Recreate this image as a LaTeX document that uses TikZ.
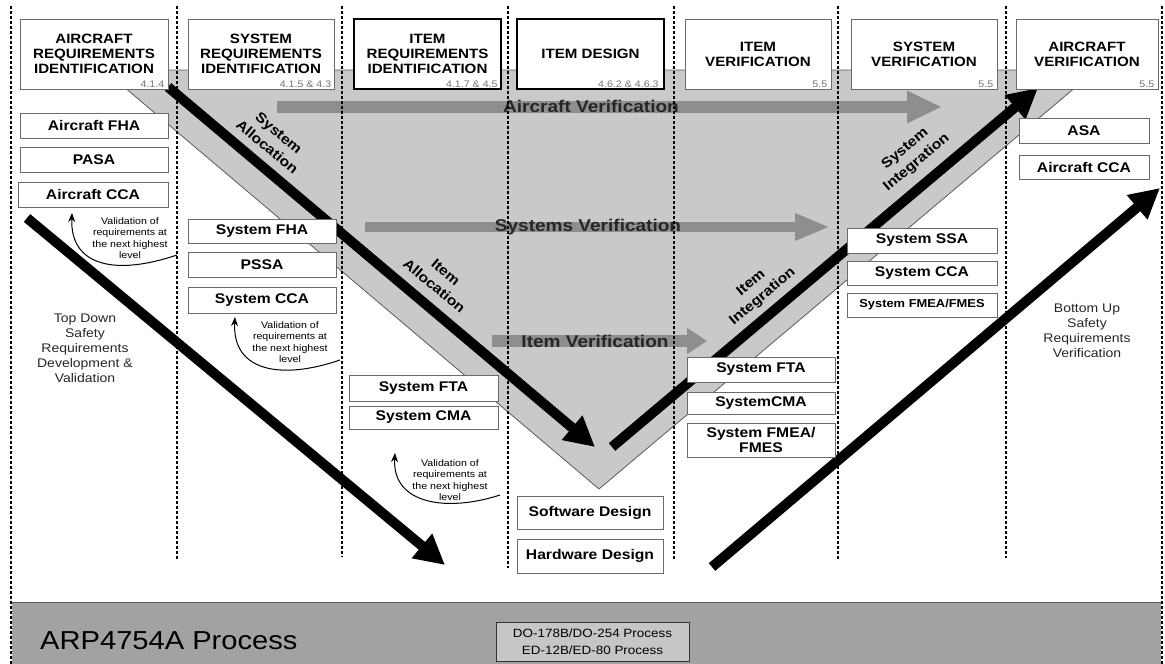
\documentclass[tikz,border=0pt]{standalone}
\usepackage{fontspec}
\setmainfont{Liberation Sans}[FakeStretch=1.12]
\usetikzlibrary{arrows.meta}
\definecolor{vfill}{HTML}{C9C9C9}
\definecolor{vedge}{HTML}{5A5A5A}
\definecolor{flowgray}{HTML}{8E8E8E}
\definecolor{bandgray}{HTML}{A2A2A2}
\definecolor{tagfill}{HTML}{C6C6C6}
\definecolor{boxedge}{HTML}{6A6A6A}
\newcommand\fsz[2]{\fontsize{#1}{#2}\selectfont}

\begin{document}
\begin{tikzpicture}[x=1pt,y=-1pt,
  phase/.style={draw=boxedge, line width=0.9pt, fill=white, align=center, inner sep=0pt,
    minimum height=70pt, font=\fsz{13.5}{15}\bfseries},
  phasebold/.style={phase, draw=black, line width=1.5pt},
  secno/.style={anchor=south east, inner sep=0pt, text=black!55, font=\fsz{9.5}{10}},
  work/.style={draw=boxedge, line width=0.8pt, fill=white, align=center, inner sep=0pt,
    font=\fsz{14}{15}\bfseries},
  divider/.style={line width=1.7pt, dash pattern=on 3pt off 2pt},
  flowtext/.style={font=\fsz{17}{19}\bfseries, text=black!85, inner sep=0pt},
  bigarrow/.style={line width=10pt, -{Triangle[length=30pt,width=30pt]}},
  phaselabel/.style={font=\fsz{14}{18}\bfseries, align=center, inner sep=0pt},
  valnote/.style={font=\fsz{9.5}{11.5}, align=center, inner sep=0pt},
  valarrow/.style={line width=1pt, -{Stealth[length=9pt,width=7pt]}},
  sidenote/.style={font=\fsz{12.5}{15}, align=center, inner sep=0pt, text=black!85},
]
\useasboundingbox (0,0) rectangle (1165,664);

% V-shaped development band
\fill[vfill] (104,70) -- (1096,70) -- (599,489) -- cycle;
\draw[vedge, line width=0.8pt] (104,70) -- (1096,70) -- (599,489) -- cycle;

% bottom process band
\fill[bandgray] (12,602) rectangle (1161,668);
\draw[vedge, line width=1pt] (12,602) -- (1161,602);

% horizontal verification flows
\coordinate (av1) at (277,107); \coordinate (av2) at (942,107);
\coordinate (sv1) at (365,227); \coordinate (sv2) at (830,227);
\coordinate (iv1) at (492,341); \coordinate (iv2) at (707,341);
\draw[flowgray, line width=12pt, -{Triangle[length=35pt,width=30pt]}] (av1) -- (av2);
\draw[flowgray, line width=10pt, -{Triangle[length=35pt,width=25pt]}] (sv1) -- (sv2);
\draw[flowgray, line width=12pt, -{Triangle[length=20pt,width=25pt]}] (iv1) -- (iv2);
\node[flowtext] (avt) at (591,106) {Aircraft Verification};
\node[flowtext] (svt) at (588,227) {Systems Verification};
\node[flowtext] (ivt) at (595,341) {Item Verification};

% column dividers
\foreach \x/\yb in {11/664, 177/560, 342/557, 508/568, 674/560, 838/560, 1006/558, 1162/664}
  \draw[divider] (\x,6) -- (\x,\yb);

% allocation / integration arrows
\coordinate (da1) at (168,87);  \coordinate (da2) at (595,447);
\coordinate (ua1) at (612,447); \coordinate (ua2) at (1038,88);
\coordinate (ta1) at (27,218);  \coordinate (ta2) at (445,565);
\coordinate (ba1) at (712,567); \coordinate (ba2) at (1160,188);
\draw[bigarrow] (da1) -- (da2);
\draw[bigarrow] (ua1) -- (ua2);
\draw[bigarrow] (ta1) -- (ta2);
\draw[bigarrow] (ba1) -- (ba2);

% phase headers
\node[phase, minimum width=148pt] (h1) at (94,54) {AIRCRAFT\\REQUIREMENTS\\IDENTIFICATION};
\node[phase, minimum width=146pt] (h2) at (261,54) {SYSTEM\\REQUIREMENTS\\IDENTIFICATION};
\node[phasebold, minimum width=147pt] (h3) at (427.5,54) {ITEM\\REQUIREMENTS\\IDENTIFICATION};
\node[phasebold, minimum width=147pt] (h4) at (590.5,54) {ITEM DESIGN};
\node[phase, minimum width=146pt] (h5) at (758,54) {ITEM\\VERIFICATION};
\node[phase, minimum width=146pt] (h6) at (924,54) {SYSTEM\\VERIFICATION};
\node[phase, minimum width=142pt] (h7) at (1087,54) {AIRCRAFT\\VERIFICATION};
\node[secno] (n1) at ([xshift=-4pt,yshift=2pt]h1.south east) {4.1.4};
\node[secno] (n2) at ([xshift=-3pt,yshift=2pt]h2.south east) {4.1.5 \& 4.3};
\node[secno] (n3) at ([xshift=-4pt,yshift=2pt]h3.south east) {4.1.7 \& 4.5};
\node[secno] (n4) at ([xshift=-6pt,yshift=2pt]h4.south east) {4.6.2 \& 4.6.3};
\node[secno] (n5) at ([xshift=-4pt,yshift=2pt]h5.south east) {5.5};
\node[secno] (n6) at ([xshift=-4pt,yshift=2pt]h6.south east) {5.5};
\node[secno] (n7) at ([xshift=-4pt,yshift=2pt]h7.south east) {5.5};

% safety assessment boxes
\node[work, minimum width=148pt, minimum height=25pt] (afha) at (94,125.5) {Aircraft FHA};
\node[work, minimum width=148pt, minimum height=25pt] (pasa) at (94,159.5) {PASA};
\node[work, minimum width=150pt, minimum height=25pt] (acca) at (93,194.5) {Aircraft CCA};
\node[work, minimum width=148pt, minimum height=24pt] (sfha) at (262,231) {System FHA};
\node[work, minimum width=148pt, minimum height=25pt] (pssa) at (262,264.5) {PSSA};
\node[work, minimum width=148pt, minimum height=26pt] (scca) at (262,300) {System CCA};
\node[work, minimum width=149pt, minimum height=26pt] (fta1) at (423.5,388) {System FTA};
\node[work, minimum width=149pt, minimum height=23pt] (cma1) at (423.5,417.5) {System CMA};
\node[work, minimum width=146pt, minimum height=33pt] (swd) at (590,512.5) {Software Design};
\node[work, minimum width=146pt, minimum height=34pt] (hwd) at (590,556) {Hardware Design};
\node[work, minimum width=148pt, minimum height=25pt] (fta2) at (761,369.5) {System FTA};
\node[work, minimum width=148pt, minimum height=22pt] (cma2) at (761,403) {SystemCMA};
\node[work, minimum width=148pt, minimum height=34pt] (fmea2) at (761,440) {System FMEA/\\FMES};
\node[work, minimum width=150pt, minimum height=25pt] (ssa) at (922,240.5) {System SSA};
\node[work, minimum width=150pt, minimum height=24pt] (scca2) at (922,273) {System CCA};
\node[work, minimum width=150pt, minimum height=24pt, font=\fsz{11.5}{13}\bfseries] (fmea3) at (922,305) {System FMEA/FMES};
\node[work, minimum width=130pt, minimum height=25pt] (asa) at (1084,130.5) {ASA};
\node[work, minimum width=130pt, minimum height=24pt] (acca2) at (1084,167) {Aircraft CCA};

% labels along the V
\node[phaselabel, rotate=-40] (salloc) at (273,140) {System\\Allocation};
\node[phaselabel, rotate=-40] (ialloc) at (440,279) {Item\\Allocation};
\node[phaselabel, rotate=40] (sinteg) at (911,156) {System\\Integration};
\node[phaselabel, rotate=40] (iinteg) at (757,290) {Item\\Integration};

% validation notes with feedback arrows
\node[valnote] (val1) at (130,238) {Validation of\\requirements at\\the next highest\\level};
\node[valnote] (val2) at (290,342) {Validation of\\requirements at\\the next highest\\level};
\node[valnote] (val3) at (450,480) {Validation of\\requirements at\\the next highest\\level};
\coordinate (vs1) at (177,255); \coordinate (vt1) at (72,213);
\coordinate (vs2) at (340,360); \coordinate (vt2) at (235,317);
\coordinate (vs3) at (500,495); \coordinate (vt3) at (395,453);
\draw[valarrow] (vs1) .. controls (115,276) and (70,266) .. (vt1);
\draw[valarrow] (vs2) .. controls (282,380) and (232,372) .. (vt2);
\draw[valarrow] (vs3) .. controls (448,512) and (392,505) .. (vt3);

% side notes
\node[sidenote] (topdown) at (85,348) {Top Down\\Safety\\Requirements\\Development \&\\Validation};
\node[sidenote] (bottomup) at (1087,331) {Bottom Up\\Safety\\Requirements\\Verification};

% process band labels
\node[anchor=west, inner sep=0pt, font=\fsz{26}{28}] (arp) at (40,641) {ARP4754A Process};
\node[draw=black!80, line width=0.8pt, fill=tagfill, minimum width=193pt, minimum height=39pt,
  inner sep=0pt, align=center, font=\fsz{12}{17}] (tag) at (592.5,641.5)
  {DO-178B/DO-254 Process\\ED-12B/ED-80 Process};
\end{tikzpicture}
\end{document}
